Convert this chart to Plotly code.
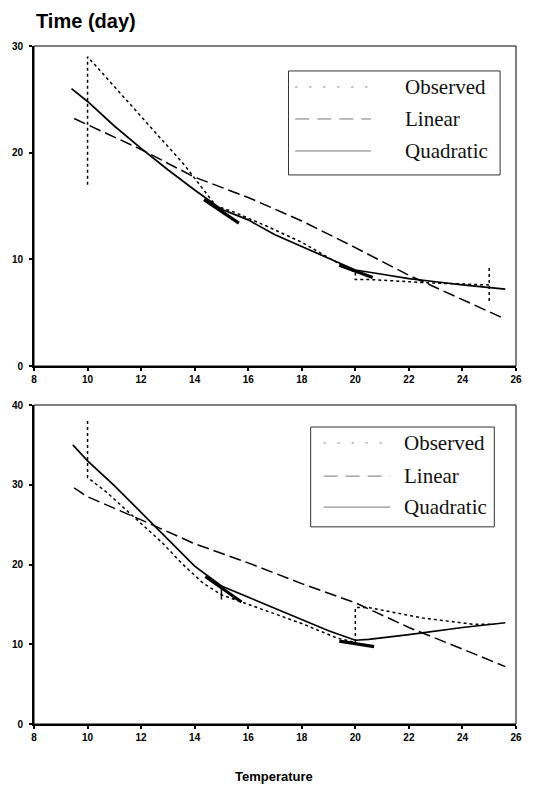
import plotly.graph_objects as go
from plotly.subplots import make_subplots

# ---------------- data ----------------
temp_ticks = [8, 10, 12, 14, 16, 18, 20, 22, 24, 26]
top_time_ticks = [0, 10, 20, 30]
bottom_time_ticks = [0, 10, 20, 30, 40]
series_names = ["Observed", "Linear", "Quadratic"]

# upper panel
top_obs_temp = [10, 10, 11, 12, 13.6, 14.8, 15.5, 16.7, 18, 19.45, 20, 20, 20.6, 22.7, 25, None, 25, 25]
top_obs_time = [17.0, 29.0, 26.2, 23.4, 18.9, 15.0, 14.4, 13.1, 11.6, 9.5, 8.8, 8.1, 8.1, 7.8, 7.6, None, 6.1, 9.3]
top_lin_temp = [9.5, 12, 14, 16, 18, 20, 22, 24, 25.6]
top_lin_time = [23.2, 20.3, 17.7, 15.8, 13.6, 11.1, 8.5, 6.2, 4.4]
top_quad_temp = [9.4, 10, 11, 12, 13, 14, 15, 16, 17, 18, 19, 20, 21, 22, 23, 24, 25.6]
top_quad_time = [26.0, 24.8, 22.5, 20.4, 18.4, 16.5, 14.7, 13.7, 12.3, 11.2, 10.1, 9.0, 8.6, 8.2, 7.9, 7.6, 7.2]
top_seg_temp = [14.35, 15.65, None, 19.4, 20.65]
top_seg_time = [15.6, 13.4, None, 9.45, 8.3]

# lower panel
bot_obs_temp = [10, 10, 10.7, 11.8, 12.8, 13.5, 14.3, 15, 16, 17, 18, 19.3, 20, 20, 20.5, 22.5, 24.4, 25.2]
bot_obs_time = [38.0, 30.9, 29.1, 25.8, 22.7, 20.2, 17.7, 16.2, 15.0, 13.8, 12.6, 10.8, 10.2, 14.6, 14.6, 13.3, 12.5, 12.5]
bot_lin_temp = [9.5, 10, 12, 14, 16, 18, 20, 22, 24, 25.6]
bot_lin_time = [29.6, 28.5, 25.6, 22.6, 20.2, 17.6, 15.2, 12.1, 9.4, 7.2]
bot_quad_temp = [9.45, 10, 11, 12, 13, 14, 15, 16, 17, 18, 19, 20, 20.5, 22, 24, 25.6]
bot_quad_time = [35.0, 33.0, 29.9, 26.5, 23.1, 19.8, 17.3, 15.9, 14.5, 13.1, 11.7, 10.5, 10.6, 11.2, 12.1, 12.7]
bot_seg_temp = [14.4, 15.75, None, 19.4, 20.7]
bot_seg_time = [18.5, 15.3, None, 10.4, 9.7]
bot_bar_temp = [15, 15]
bot_bar_time = [15.6, 17.4]

# ---------------- figure ----------------
fig = make_subplots(rows=2, cols=1, vertical_spacing=0.0)

obs_style = dict(color="black", width=1.5, dash="3px,3px")
lin_style = dict(color="black", width=1.5, dash="12px,5px")
quad_style = dict(color="black", width=1.7)
seg_style = dict(color="black", width=3.2)

panels = [
    (1, top_obs_temp, top_obs_time, top_lin_temp, top_lin_time, top_quad_temp, top_quad_time, top_seg_temp, top_seg_time),
    (2, bot_obs_temp, bot_obs_time, bot_lin_temp, bot_lin_time, bot_quad_temp, bot_quad_time, bot_seg_temp, bot_seg_time),
]
for row, ox, oy, lx, ly, qx, qy, sx, sy in panels:
    fig.add_trace(go.Scatter(x=ox, y=oy, mode="lines", line=obs_style, name=series_names[0], showlegend=False), row=row, col=1)
    fig.add_trace(go.Scatter(x=lx, y=ly, mode="lines", line=lin_style, name=series_names[1], showlegend=False), row=row, col=1)
    fig.add_trace(go.Scatter(x=qx, y=qy, mode="lines", line=quad_style, name=series_names[2], showlegend=False), row=row, col=1)
    fig.add_trace(go.Scatter(x=sx, y=sy, mode="lines", line=seg_style, showlegend=False, hoverinfo="skip"), row=row, col=1)
fig.add_trace(go.Scatter(x=bot_bar_temp, y=bot_bar_time, mode="lines", line=dict(color="black", width=1.5),
                         showlegend=False, hoverinfo="skip"), row=2, col=1)

tickfont = dict(family="Liberation Sans", size=10, color="black", weight="bold")
axis_common = dict(showgrid=False, zeroline=False, showline=True, linecolor="black", linewidth=2,
                   ticks="outside", ticklen=3, tickwidth=1.5, tickcolor="black", tickfont=tickfont)

fig.update_xaxes(range=[8, 26], tickvals=temp_ticks, ticktext=[str(t) for t in temp_ticks], **axis_common)
fig.update_xaxes(domain=[0, 1], row=1, col=1)
fig.update_xaxes(domain=[0, 1], row=2, col=1)
fig.update_yaxes(range=[0, 30], tickvals=top_time_ticks, domain=[0.528, 1.0], ticklabelstandoff=4,
                 row=1, col=1, **axis_common)
fig.update_yaxes(range=[0, 40], tickvals=bottom_time_ticks, domain=[0.0, 0.4705], ticklabelstandoff=4,
                 row=2, col=1, **axis_common)

shapes = []
annotations = []
legend_font = dict(family="Liberation Serif", size=21, color="#111")
sample_styles = [dict(color="#777", width=1, dash="2px,12px"),
                 dict(color="#777", width=1, dash="14px,8px"),
                 dict(color="#777", width=1)]

legend_layout = [
    # axis suffix, box (x0,x1,y0,y1), sample x0,x1, text x, row ys
    ("", (0.528, 0.967, 0.597, 0.922), (0.542, 0.699), 0.765, [0.872, 0.772, 0.672]),
    ("2", (0.574, 0.955, 0.618, 0.931), (0.601, 0.739), 0.763, [0.881, 0.777, 0.680]),
]
for suf, box, samp, tx, rows in legend_layout:
    xr, yr = "x%s domain" % suf, "y%s domain" % suf
    # thin frame around the plot
    shapes.append(dict(type="rect", xref=xr, yref=yr, x0=0, x1=1, y0=0, y1=1,
                       line=dict(color="black", width=1)))
    shapes.append(dict(type="rect", xref=xr, yref=yr, x0=box[0], x1=box[1], y0=box[2], y1=box[3],
                       line=dict(color="#333", width=1), fillcolor="rgba(0,0,0,0)"))
    for name, st, yy in zip(series_names, sample_styles, rows):
        shapes.append(dict(type="line", xref=xr, yref=yr, x0=samp[0], x1=samp[1], y0=yy, y1=yy, line=st))
        annotations.append(dict(text=name, xref=xr, yref=yr, x=tx, y=yy, xanchor="left", yanchor="middle",
                                showarrow=False, font=legend_font))

annotations.append(dict(text="Time (day)", xref="paper", yref="paper", x=0.0, y=1.037,
                        xanchor="left", yanchor="middle", showarrow=False,
                        font=dict(family="Liberation Sans", size=20, color="black", weight="bold")))
annotations.append(dict(text="Temperature", xref="paper", yref="paper", x=0.497, y=-0.078,
                        xanchor="center", yanchor="middle", showarrow=False,
                        font=dict(family="Liberation Sans", size=13, color="black", weight="bold")))

fig.update_layout(width=536, height=786, margin=dict(l=31, r=20, t=46, b=62),
                  paper_bgcolor="white", plot_bgcolor="white", showlegend=False,
                  shapes=shapes, annotations=annotations)

fig.write_html("out.html", config={"displayModeBar": False},
               post_script="document.body.style.margin='0';document.body.style.padding='0';"
                           "document.documentElement.style.overflow='hidden';")
